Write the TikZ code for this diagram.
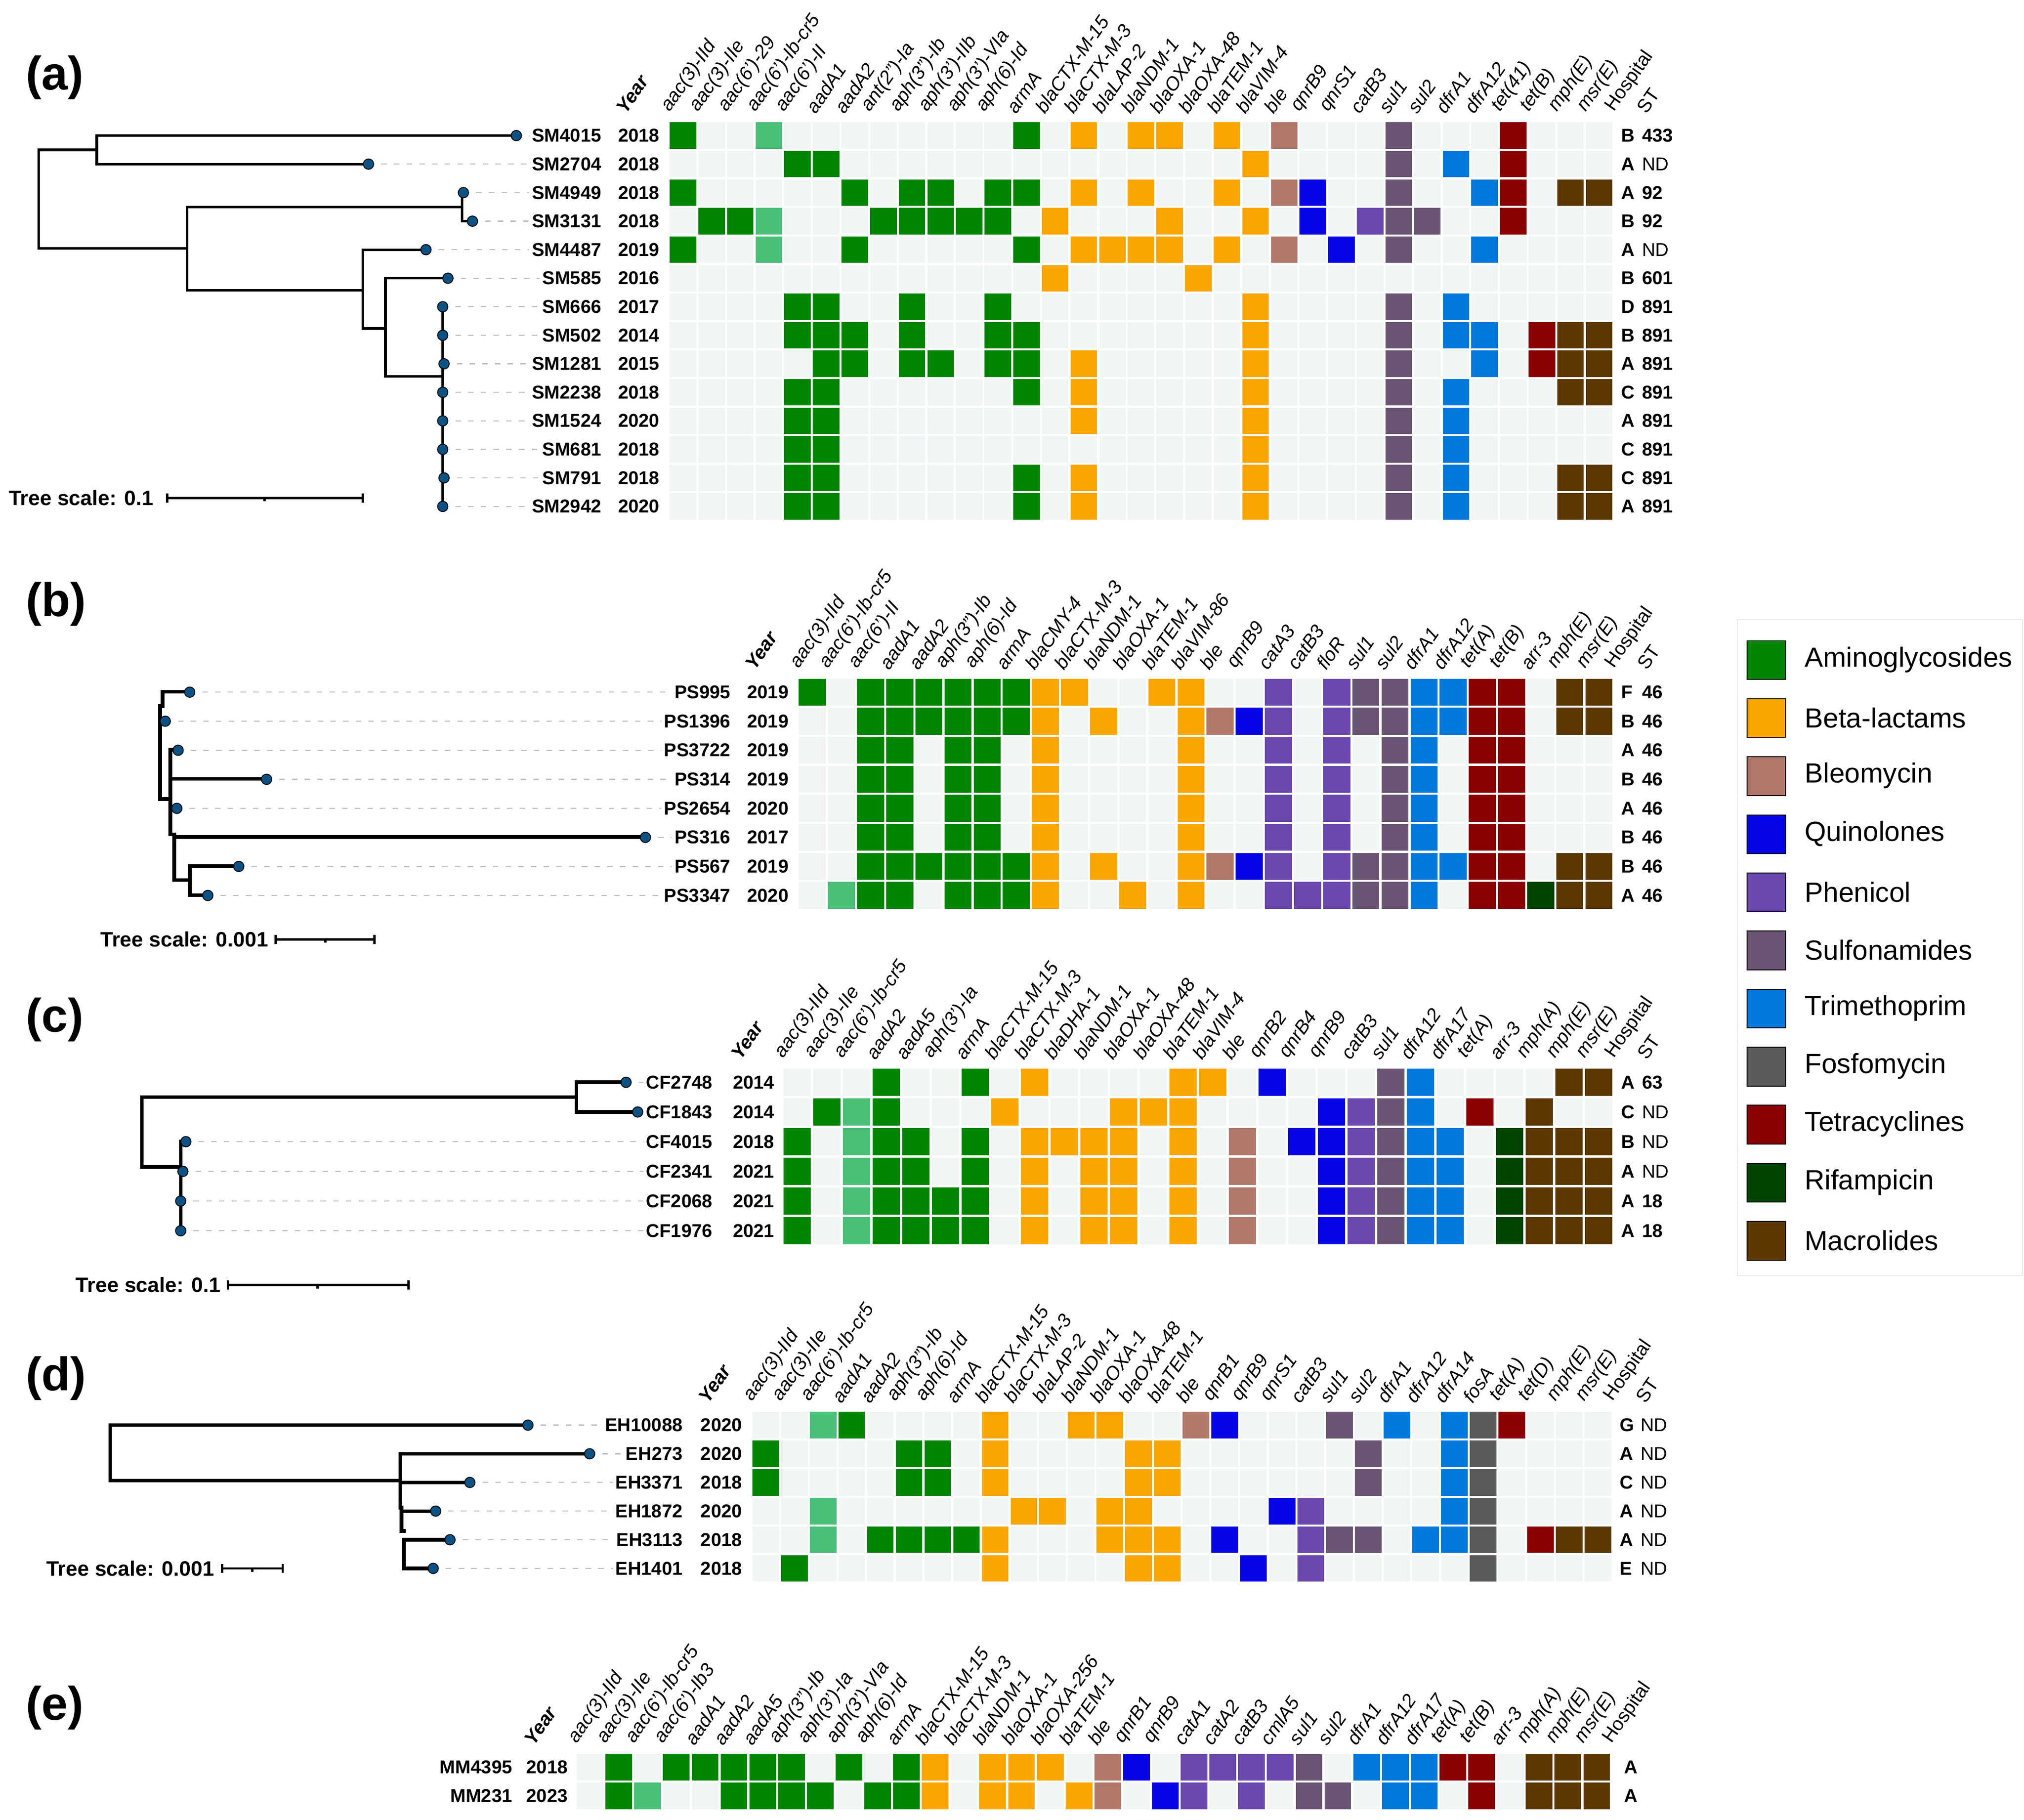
\documentclass[tikz,border=0pt]{standalone}
\usepackage{fontspec}
\setmainfont{Liberation Sans}
\definecolor{cE}{HTML}{F1F5F3}
\definecolor{cG}{HTML}{008500}
\definecolor{cL}{HTML}{48C078}
\definecolor{cO}{HTML}{FBA500}
\definecolor{cB}{HTML}{B07868}
\definecolor{cQ}{HTML}{0505E6}
\definecolor{cP}{HTML}{6A48AE}
\definecolor{cS}{HTML}{6A5474}
\definecolor{cT}{HTML}{0078DC}
\definecolor{cF}{HTML}{5A5A5A}
\definecolor{cR}{HTML}{8B0000}
\definecolor{cN}{HTML}{004400}
\definecolor{cM}{HTML}{5C3800}
\definecolor{tipc}{HTML}{0B5385}
\newcommand\hfont{\fontsize{21}{23}\selectfont}
\tikzset{
 lab/.style={font=\fontsize{20.5}{22}\selectfont\bfseries, inner sep=0pt},
 hdr/.style={font=\hfont\itshape, rotate=55, anchor=south west, inner sep=0pt},
 br/.style={line width=2.8pt, black, line cap=rect},
 brt/.style={line width=4pt, black, line cap=rect},
 lead/.style={draw=black!25, line width=1.2pt, dash pattern=on 6pt off 8pt},
 tip/.style={circle, minimum size=0.4cm, inner sep=0pt, fill=tipc, draw=black, line width=1pt},
 sc/.style={line width=2.5pt, black},
 sct/.style={font=\fontsize{23}{25}\selectfont\bfseries, inner sep=0pt, anchor=east},
 pan/.style={font=\fontsize{52}{56}\selectfont\bfseries, anchor=west, inner sep=0pt}
}
\newcommand\cellat[3]{\fill[fill=#3] ({\gX+(#1-1)*\gPX+0.8},{\gY+(#2-1)*\gPY+0.8}) rectangle ++({\gPX-1.6},{\gPY-1.6});}
\newcommand\srow[7]{%
 \pgfmathsetmacro\yy{\gY+(#1-0.5)*\gPY}
 \foreach \c in {1,...,\gN}{\cellat{\c}{#1}{cE}}
 \foreach \c/\cc in {#7}{\cellat{\c}{#1}{c\cc}}
 \node[lab,anchor=east] (\gP i#1) at (\gLR,\yy) {#2};
 \node[lab,anchor=east] (\gP y#1) at (\gYR,\yy) {#3};
 \node[lab,anchor=west] (\gP h#1) at ({\gX+\gN*\gPX+6},\yy) {#4};
 \node[lab,anchor=west] (\gP s#1) at ({\gX+\gN*\gPX+22},\yy) {#5};
 \coordinate (\gP c#1) at (#6,\yy);
 \draw[lead] (\gP c#1) -- ([xshift=-3pt]\gP i#1.west);
 \node[tip] (\gP t#1) at (\gP c#1) {};
}
\newcommand\erow[5]{%
 \pgfmathsetmacro\yy{\gY+(#1-0.5)*\gPY}
 \foreach \c in {1,...,\gN}{\cellat{\c}{#1}{cE}}
 \foreach \c/\cc in {#5}{\cellat{\c}{#1}{c\cc}}
 \node[lab,anchor=east] (\gP i#1) at (\gLR,\yy) {#2};
 \node[lab,anchor=east] (\gP y#1) at (\gYR,\yy) {#3};
 \node[lab,anchor=west] (\gP h#1) at ({\gX+\gN*\gPX+10},\yy) {#4};
}
\newcommand\hdrs[1]{%
 \foreach \t [count=\c] in {#1}{\node[hdr] (\gP g\c) at ({\gX+(\c-0.85)*\gPX},{\gY-5}) {\t};}
 \node[hdr,font=\hfont\bfseries\itshape] (\gP yh) at ({\gYR-26},{\gY-5}) {Year};
 \node[hdr,font=\hfont\upshape] (\gP hh) at ({\gX+\gN*\gPX+3},{\gY-5}) {Hospital};
}
\newcommand\sthdr{\node[hdr,font=\hfont\upshape] (\gP sh) at ({\gX+\gN*\gPX+26},{\gY-5}) {ST};}
\begin{document}
\begin{tikzpicture}[x=0.05cm,y=-0.05cm]
\useasboundingbox (0,0) rectangle (1568,1410);
\fill[white] (0,0) rectangle (1568,1410);
% ---------------- (a)
\node[pan] (pa) at (20,60) {(a)};
\def\gX{518}\def\gY{94}\def\gPX{22.18}\def\gPY{22.1}\def\gN{33}\def\gLR{466}\def\gYR{511}\def\gP{a}
\hdrs{aac(3)-IId, aac(3)-IIe, aac(6')-29, aac(6')-Ib-cr5, aac(6')-II, aadA1, aadA2, ant(2'')-Ia, aph(3'')-Ib, aph(3')-IIb, aph(3')-VIa, aph(6)-Id, armA, blaCTX-M-15, blaCTX-M-3, blaLAP-2, blaNDM-1, blaOXA-1, blaOXA-48, blaTEM-1, blaVIM-4, ble, qnrB9, qnrS1, catB3, sul1, sul2, dfrA1, dfrA12, tet(41), tet(B), mph(E), msr(E)}
\sthdr
\draw[br] (400,105.05) -| (75,127.15) -- (285.5,127.15);
\draw[br] (75,116.1) -| (30,192.6) -- (145,192.6);
\draw[br] (358,160.3) -| (145,225) -- (281,225);
\draw[br] (359,149.25) -| (358,171.35) -- (366,171.35);
\draw[br] (330,193.45) -| (281,254.5) -- (298.6,254.5);
\draw[br] (347,215.55) -| (298.6,291.5) -- (343,291.5);
\draw[br] (343,237.65) -- (343,392.35);
\srow{1}{SM4015}{2018}{B}{433}{400}{1/G,4/L,13/G,15/O,17/O,18/O,20/O,22/B,26/S,30/R}
\srow{2}{SM2704}{2018}{A}{\mdseries ND}{285.5}{5/G,6/G,21/O,26/S,28/T,30/R}
\srow{3}{SM4949}{2018}{A}{92}{359}{1/G,7/G,9/G,10/G,12/G,13/G,15/O,17/O,20/O,22/B,23/Q,26/S,29/T,30/R,32/M,33/M}
\srow{4}{SM3131}{2018}{B}{92}{366}{2/G,3/G,4/L,8/G,9/G,10/G,11/G,12/G,14/O,18/O,21/O,23/Q,25/P,26/S,27/S,30/R}
\srow{5}{SM4487}{2019}{A}{\mdseries ND}{330}{1/G,4/L,7/G,13/G,15/O,16/O,17/O,18/O,20/O,22/B,24/Q,26/S,29/T}
\srow{6}{SM585}{2016}{B}{601}{347}{14/O,19/O}
\srow{7}{SM666}{2017}{D}{891}{343}{5/G,6/G,9/G,12/G,21/O,26/S,28/T}
\srow{8}{SM502}{2014}{B}{891}{343}{5/G,6/G,7/G,9/G,12/G,13/G,21/O,26/S,28/T,29/T,31/R,32/M,33/M}
\srow{9}{SM1281}{2015}{A}{891}{344}{6/G,7/G,9/G,10/G,12/G,13/G,15/O,21/O,26/S,29/T,31/R,32/M,33/M}
\srow{10}{SM2238}{2018}{C}{891}{343}{5/G,6/G,13/G,15/O,21/O,26/S,28/T,32/M,33/M}
\srow{11}{SM1524}{2020}{A}{891}{343}{5/G,6/G,15/O,21/O,26/S,28/T}
\srow{12}{SM681}{2018}{C}{891}{343}{5/G,6/G,21/O,26/S,28/T}
\srow{13}{SM791}{2018}{C}{891}{344}{5/G,6/G,13/G,15/O,21/O,26/S,28/T,32/M,33/M}
\srow{14}{SM2942}{2020}{A}{891}{343}{5/G,6/G,13/G,15/O,21/O,26/S,28/T,32/M,33/M}
\coordinate (asa) at (129.6,385.8); \coordinate (asb) at (281,385.8);
\draw[sc] (asa) -- (asb);
\draw[sc] ([yshift=-5pt]asa) -- ([yshift=5pt]asa);
\draw[sc] ([yshift=-5pt]asb) -- ([yshift=5pt]asb);
\draw[sc] (205,385.8) -- (205,388.5);
\node[sct] (ast) at (119,385.8) {Tree scale: 0.1};
% ---------------- (b)
\node[pan] (pb) at (20,468) {(b)};
\def\gX{618}\def\gY{525}\def\gPX{22.57}\def\gPY{22.5}\def\gN{28}\def\gLR{566}\def\gYR{611}\def\gP{b}
\hdrs{aac(3)-IId, aac(6')-Ib-cr5, aac(6')-II, aadA1, aadA2, aph(3'')-Ib, aph(6)-Id, armA, blaCMY-4, blaCTX-M-3, blaNDM-1, blaOXA-1, blaTEM-1, blaVIM-86, ble, qnrB9, catA3, catB3, floR, sul1, sul2, dfrA1, dfrA12, tet(A), tet(B), arr-3, mph(E), msr(E)}
\sthdr
\draw[brt] (147,536) -| (126,547) -- (124,547) -- (124,619) -- (132,619);
\draw[brt] (124,558.5) -- (128,558.5);
\draw[brt] (138,581) -| (132,646.3) -- (135,646.3);
\draw[brt] (132,603.5) -- (206.5,603.5);
\draw[brt] (132,626) -- (137,626);
\draw[brt] (500,648.5) -| (135,681.8) -- (147,681.8);
\draw[brt] (185,671) -| (147,693.5) -- (161,693.5);
\srow{1}{PS995}{2019}{F}{46}{147}{1/G,3/G,4/G,5/G,6/G,7/G,8/G,9/O,10/O,13/O,14/O,17/P,19/P,20/S,21/S,22/T,23/T,24/R,25/R,27/M,28/M}
\srow{2}{PS1396}{2019}{B}{46}{128}{3/G,4/G,5/G,6/G,7/G,8/G,9/O,11/O,14/O,15/B,16/Q,17/P,19/P,20/S,21/S,22/T,23/T,24/R,25/R,27/M,28/M}
\srow{3}{PS3722}{2019}{A}{46}{138}{3/G,4/G,6/G,7/G,9/O,14/O,17/P,19/P,21/S,22/T,24/R,25/R}
\srow{4}{PS314}{2019}{B}{46}{206.5}{3/G,4/G,6/G,7/G,9/O,14/O,17/P,19/P,21/S,22/T,24/R,25/R}
\srow{5}{PS2654}{2020}{A}{46}{137}{3/G,4/G,6/G,7/G,9/O,14/O,17/P,19/P,21/S,22/T,24/R,25/R}
\srow{6}{PS316}{2017}{B}{46}{500}{3/G,4/G,6/G,7/G,9/O,14/O,17/P,19/P,21/S,22/T,24/R,25/R}
\srow{7}{PS567}{2019}{B}{46}{185}{3/G,4/G,5/G,6/G,7/G,8/G,9/O,11/O,14/O,15/B,16/Q,17/P,19/P,20/S,21/S,22/T,23/T,24/R,25/R,27/M,28/M}
\srow{8}{PS3347}{2020}{A}{46}{161}{2/L,3/G,4/G,6/G,7/G,8/G,9/O,12/O,14/O,17/P,18/P,19/P,20/S,21/S,22/T,24/R,25/R,26/N,27/M,28/M}
\coordinate (bsa) at (213.6,727.7); \coordinate (bsb) at (290,727.7);
\draw[sc] (bsa) -- (bsb);
\draw[sc] ([yshift=-5pt]bsa) -- ([yshift=5pt]bsa);
\draw[sc] ([yshift=-5pt]bsb) -- ([yshift=5pt]bsb);
\draw[sc] (252,727.7) -- (252,730.4);
\node[sct] (bst) at (208,727.7) {Tree scale: 0.001};
% ---------------- (c)
\node[pan] (pc) at (20,790) {(c)};
\def\gX{606}\def\gY{827}\def\gPX{23}\def\gPY{23}\def\gN{28}\def\gLR{552}\def\gYR{600}\def\gP{c}
\hdrs{aac(3)-IId, aac(3)-IIe, aac(6')-Ib-cr5, aadA2, aadA5, aph(3')-Ia, armA, blaCTX-M-15, blaCTX-M-3, blaDHA-1, blaNDM-1, blaOXA-1, blaOXA-48, blaTEM-1, blaVIM-4, ble, qnrB2, qnrB4, qnrB9, catB3, sul1, dfrA12, dfrA17, tet(A), arr-3, mph(A), mph(E), msr(E)}
\sthdr
\draw[brt] (485,838.5) -| (446.6,861.5) -- (494,861.5);
\draw[brt] (446.6,850) -| (110,904) -- (140,904);
\draw[brt] (144,884.5) -- (140,884.5) -- (140,953.5);
\srow{1}{CF2748}{2014}{A}{63}{485}{4/G,7/G,9/O,14/O,15/O,17/Q,21/S,22/T,27/M,28/M}
\srow{2}{CF1843}{2014}{C}{\mdseries ND}{494}{2/G,3/L,4/G,8/O,12/O,13/O,14/O,19/Q,20/P,21/S,22/T,24/R,26/M}
\srow{3}{CF4015}{2018}{B}{\mdseries ND}{144}{1/G,3/L,4/G,5/G,7/G,9/O,10/O,11/O,12/O,14/O,16/B,18/Q,19/Q,20/P,21/S,22/T,23/T,25/N,26/M,27/M,28/M}
\srow{4}{CF2341}{2021}{A}{\mdseries ND}{141.7}{1/G,3/L,4/G,5/G,7/G,9/O,11/O,12/O,14/O,16/B,19/Q,20/P,21/S,22/T,23/T,25/N,26/M,27/M,28/M}
\srow{5}{CF2068}{2021}{A}{18}{140}{1/G,3/L,4/G,5/G,6/G,7/G,9/O,11/O,12/O,14/O,16/B,19/Q,20/P,21/S,22/T,23/T,25/N,26/M,27/M,28/M}
\srow{6}{CF1976}{2021}{A}{18}{140}{1/G,3/L,4/G,5/G,6/G,7/G,9/O,11/O,12/O,14/O,16/B,19/Q,20/P,21/S,22/T,23/T,25/N,26/M,27/M,28/M}
\coordinate (csa) at (176.6,995.5); \coordinate (csb) at (316.4,995.5);
\draw[sc] (csa) -- (csb);
\draw[sc] ([yshift=-5pt]csa) -- ([yshift=5pt]csa);
\draw[sc] ([yshift=-5pt]csb) -- ([yshift=5pt]csb);
\draw[sc] (246,995.5) -- (246,998.2);
\node[sct] (cst) at (171,995.5) {Tree scale: 0.1};
% ---------------- (d)
\node[pan] (pd) at (20,1068) {(d)};
\def\gX{582}\def\gY{1093}\def\gPX{22.23}\def\gPY{22.2}\def\gN{30}\def\gLR{529}\def\gYR{575}\def\gP{d}
\hdrs{aac(3)-IId, aac(3)-IIe, aac(6')-Ib-cr5, aadA1, aadA2, aph(3'')-Ib, aph(6)-Id, armA, blaCTX-M-15, blaCTX-M-3, blaLAP-2, blaNDM-1, blaOXA-1, blaOXA-48, blaTEM-1, ble, qnrB1, qnrB9, qnrS1, catB3, sul1, sul2, dfrA1, dfrA12, dfrA14, fosA, tet(A), tet(D), mph(E), msr(E)}
\sthdr
\draw[brt] (409,1104.1) -| (85.4,1147) -- (310,1147);
\draw[brt] (456.8,1126.3) -| (310,1168) -- (311,1168);
\draw[brt] (310,1148.5) -- (364,1148.5);
\draw[brt] (337.5,1170.7) -| (311,1186) -- (313,1186);
\draw[brt] (348.6,1192.9) -| (313,1215.1) -- (335.6,1215.1);
\srow{1}{EH10088}{2020}{G}{\mdseries ND}{409}{3/L,4/G,9/O,12/O,13/O,16/B,17/Q,21/S,23/T,25/T,26/F,27/R}
\srow{2}{EH273}{2020}{A}{\mdseries ND}{456.8}{1/G,6/G,7/G,9/O,14/O,15/O,22/S,25/T,26/F}
\srow{3}{EH3371}{2018}{C}{\mdseries ND}{364}{1/G,6/G,7/G,9/O,14/O,15/O,22/S,25/T,26/F}
\srow{4}{EH1872}{2020}{A}{\mdseries ND}{337.5}{3/L,10/O,11/O,13/O,14/O,19/Q,20/P,25/T,26/F}
\srow{5}{EH3113}{2018}{A}{\mdseries ND}{348.6}{3/L,5/G,6/G,7/G,8/G,9/O,13/O,14/O,15/O,17/Q,20/P,21/S,22/S,24/T,25/T,26/F,28/R,29/M,30/M}
\srow{6}{EH1401}{2018}{E}{\mdseries ND}{335.6}{2/G,9/O,14/O,15/O,18/Q,20/P,26/F}
\coordinate (dsa) at (172,1215.1); \coordinate (dsb) at (219,1215.1);
\draw[sc] (dsa) -- (dsb);
\draw[sc] ([yshift=-5pt]dsa) -- ([yshift=5pt]dsa);
\draw[sc] ([yshift=-5pt]dsb) -- ([yshift=5pt]dsb);
\draw[sc] (195.5,1215.1) -- (195.5,1217.8);
\node[sct] (dst) at (166,1215.1) {Tree scale: 0.001};
% ---------------- (e)
\node[pan] (pe) at (20,1323) {(e)};
\def\gX{446}\def\gY{1358}\def\gPX{22.28}\def\gPY{22.3}\def\gN{36}\def\gLR{397}\def\gYR{440}\def\gP{e}
\hdrs{aac(3)-IId, aac(3)-IIe, aac(6')-Ib-cr5, aac(6')-Ib3, aadA1, aadA2, aadA5, aph(3'')-Ib, aph(3')-Ia, aph(3')-VIa, aph(6)-Id, armA, blaCTX-M-15, blaCTX-M-3, blaNDM-1, blaOXA-1, blaOXA-256, blaTEM-1, ble, qnrB1, qnrB9, catA1, catA2, catB3, cmlA5, sul1, sul2, dfrA1, dfrA12, dfrA17, tet(A), tet(B), arr-3, mph(A), mph(E), msr(E)}
\erow{1}{MM4395}{2018}{A}{2/G,4/G,5/G,6/G,7/G,8/G,10/G,12/G,13/O,15/O,16/O,17/O,19/B,20/Q,22/P,23/P,24/P,25/P,26/S,28/T,29/T,30/T,31/R,32/R,34/M,35/M,36/M}
\erow{2}{MM231}{2023}{A}{2/G,3/L,6/G,7/G,8/G,9/G,11/G,12/G,13/O,15/O,16/O,18/O,19/B,21/Q,22/P,24/P,26/S,27/S,29/T,30/T,32/R,34/M,35/M,36/M}
% ---------------- legend
\draw[draw=black!8, line width=1pt] (1346,480) rectangle (1567,988);
\foreach \nm/\cc [count=\i] in {Aminoglycosides/G, Beta-lactams/O, Bleomycin/B, Quinolones/Q, Phenicol/P, Sulfonamides/S, Trimethoprim/T, Fosfomycin/F, Tetracyclines/R, Rifampicin/N, Macrolides/M}{
 \node[draw=black, line width=1pt, fill=c\cc, minimum width=1.5cm, minimum height=1.5cm, inner sep=0pt, anchor=north west] (lg\i) at (1353,{496+45*(\i-1)}) {};
 \node[anchor=west, inner sep=0pt, font=\fontsize{30.5}{32}\selectfont] (lt\i) at (1398,{511+45*(\i-1)}) {\nm};
}
\end{tikzpicture}
\end{document}
